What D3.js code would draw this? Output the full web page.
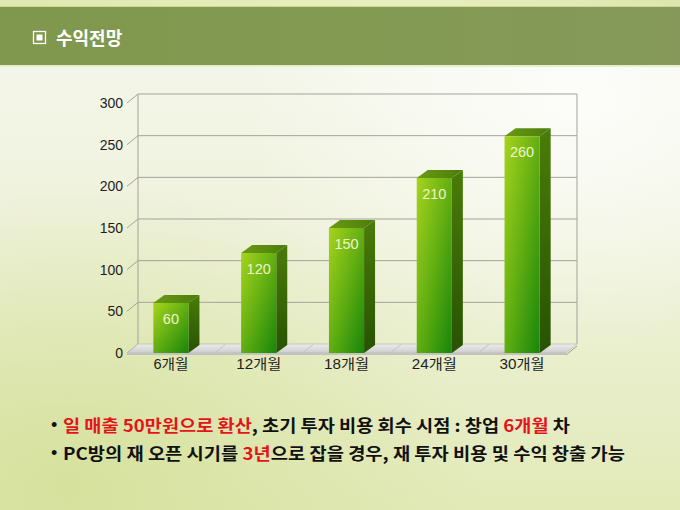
<!DOCTYPE html>
<html>
<head>
<meta charset="utf-8">
<script src="https://cdn.jsdelivr.net/npm/d3@7"></script>
<style>
  html, body { margin: 0; padding: 0; background: #f3f5e6; }
  svg { display: block; }
</style>
</head>
<body>
<svg id="chart" width="680" height="510"></svg>
<script>
const categories = ['6개월', '12개월', '18개월', '24개월', '30개월']
const values = [60, 120, 150, 210, 260]
const yTicks = [0, 50, 100, 150, 200, 250, 300]
const titleText = '수익전망'
const bulletLines = [
  [{ t: '일 매출 50만원으로 환산', red: true }, { t: ', 초기 투자 비용 회수 시점 : 창업 ' }, { t: '6개월', red: true }, { t: ' 차' }],
  [{ t: 'PC방의 재 오픈 시기를 ' }, { t: '3년', red: true }, { t: '으로 잡을 경우, 재 투자 비용 및 수익 창출 가능' }]
]

const W = 680, H = 510
const svg = d3.select('#chart')
const defs = svg.append('defs')

// depth offsets of the 3d box
const wallDx = 11, wallDy = 9
const barDx = 11, barDy = 8

function linGrad (id, x1, y1, x2, y2, stops) {
  const g = defs.append('linearGradient').attr('id', id)
    .attr('x1', x1).attr('y1', y1).attr('x2', x2).attr('y2', y2)
  stops.forEach(s => g.append('stop').attr('offset', s[0]).attr('stop-color', s[1]).attr('stop-opacity', s[2] == null ? 1 : s[2]))
}
function radGrad (id, cx, cy, r, stops) {
  const g = defs.append('radialGradient').attr('id', id)
    .attr('cx', cx).attr('cy', cy).attr('r', r)
  stops.forEach(s => g.append('stop').attr('offset', s[0]).attr('stop-color', s[1]).attr('stop-opacity', s[2] == null ? 1 : s[2]))
}

linGrad('bgLin', 0, 0, 0, 1, [[0, '#f6f7ee'], [0.45, '#eff2dc'], [1, '#e2eab8']])
radGrad('bgGreen', 0.1, 0.95, 0.6, [[0, '#d5e09a', 0.9], [1, '#d5e09a', 0]])
radGrad('bgGlow', 0.85, 0.2, 0.5, [[0, '#ffffff', 0.8], [1, '#ffffff', 0]])
linGrad('band', 0, 0, 1, 0, [[0, '#7f984d'], [0.5, '#829a52'], [1, '#86995a']])
linGrad('topStrip', 0, 0, 1, 0, [[0, '#dfe8b0'], [0.6, '#e8efbf'], [1, '#dde6ae']])
linGrad('barFront', 0, 0, 1, 1, [[0, '#a6d41c'], [0.5, '#62ae12'], [1, '#17860a']])
linGrad('barSide', 0, 0, 0, 1, [[0, '#4a7c08'], [1, '#285202']])
linGrad('barTop', 0, 0, 1, 0, [[0, '#6a9a14'], [1, '#4c7c0a']])
linGrad('floorTop', 0, 0, 0, 1, [[0, '#ececec'], [1, '#cdcdcd']])

// background
svg.append('rect').attr('width', W).attr('height', H).attr('fill', 'url(#bgLin)')
svg.append('rect').attr('width', W).attr('height', H).attr('fill', 'url(#bgGreen)')
svg.append('rect').attr('width', W).attr('height', H).attr('fill', 'url(#bgGlow)')

// header band
svg.append('rect').attr('x', 0).attr('y', 0).attr('width', W).attr('height', 7).attr('fill', 'url(#topStrip)')
svg.append('rect').attr('x', 0).attr('y', 6).attr('width', W).attr('height', 1).attr('fill', '#cbd896')
svg.append('rect').attr('x', 0).attr('y', 7).attr('width', W).attr('height', 58).attr('fill', 'url(#band)')
svg.append('rect').attr('x', 0).attr('y', 65).attr('width', W).attr('height', 2).attr('fill', '#e6eecb')

// title
const tg = svg.append('g')
tg.append('rect').attr('x', 33.5).attr('y', 31.5).attr('width', 12).attr('height', 12)
  .attr('fill', 'none').attr('stroke', '#ffffff').attr('stroke-width', 1.3)
tg.append('rect').attr('x', 36.5).attr('y', 34.5).attr('width', 6).attr('height', 6).attr('fill', '#ffffff')
tg.append('text').attr('x', 56).attr('y', 45)
  .attr('font-family', '"Noto Sans CJK KR", sans-serif').attr('font-weight', 700)
  .attr('font-size', 18).attr('fill', '#ffffff').text(titleText)

// scales
const x = d3.scaleBand().domain(categories).range([127, 566]).paddingInner(0.6).paddingOuter(0.3)
const y = d3.scaleLinear().domain([0, 300]).range([353, 103])
const x0 = 127, x1 = 566

const chart = svg.append('g')

// back wall grid
chart.append('g').selectAll('line').data(yTicks).join('line')
  .attr('x1', x0 + wallDx).attr('x2', x1 + wallDx)
  .attr('y1', d => y(d) - wallDy).attr('y2', d => y(d) - wallDy)
  .attr('stroke', d => d === 0 ? 'none' : '#a3a39a').attr('stroke-width', 1)
// wall edges
chart.append('line').attr('x1', x0 + wallDx).attr('x2', x0 + wallDx)
  .attr('y1', y(300) - wallDy).attr('y2', y(0) - wallDy).attr('stroke', '#a3a39a')
chart.append('line').attr('x1', x1 + wallDx).attr('x2', x1 + wallDx)
  .attr('y1', y(300) - wallDy).attr('y2', y(0) - wallDy).attr('stroke', '#a3a39a')
// diagonal tick stubs on left side
chart.append('g').selectAll('line').data(yTicks).join('line')
  .attr('x1', x0).attr('x2', x0 + wallDx)
  .attr('y1', d => y(d)).attr('y2', d => y(d) - wallDy)
  .attr('stroke', '#a3a39a')

// floor slab
const fy = y(0)
chart.append('path')
  .attr('d', `M${x0},${fy} L${x0 + wallDx},${fy - wallDy} L${x1 + wallDx},${fy - wallDy} L${x1},${fy} Z`)
  .attr('fill', 'url(#floorTop)').attr('stroke', '#b4b4b0').attr('stroke-width', 0.6)
chart.append('path')
  .attr('d', `M${x0},${fy} L${x1},${fy} L${x1},${fy + 2} L${x0},${fy + 2} Z`)
  .attr('fill', '#c2c2c0')
chart.append('line').attr('x1', x1).attr('y1', fy + 2).attr('x2', x1 + wallDx).attr('y2', fy - wallDy + 2)
  .attr('stroke', '#a3a39a')
// category dividers on the floor
const step = x.step()
chart.append('g').selectAll('line').data(categories.slice(1)).join('line')
  .attr('x1', d => x(d) - step * 0.3).attr('x2', d => x(d) - step * 0.3 + wallDx)
  .attr('y1', fy).attr('y2', fy - wallDy)
  .attr('stroke', '#bdbdb8').attr('stroke-width', 0.8)

// bars
const bw = x.bandwidth()
const bars = chart.append('g').selectAll('g').data(categories).join('g')
bars.append('path') // side
  .attr('d', (d, i) => {
    const xr = x(d) + bw, yt = y(values[i]), yb = y(0)
    return `M${xr},${yt} L${xr + barDx},${yt - barDy} L${xr + barDx},${yb - barDy} L${xr},${yb} Z`
  })
  .attr('fill', 'url(#barSide)')
bars.append('path') // top
  .attr('d', (d, i) => {
    const xl = x(d), yt = y(values[i])
    return `M${xl},${yt} L${xl + barDx},${yt - barDy} L${xl + bw + barDx},${yt - barDy} L${xl + bw},${yt} Z`
  })
  .attr('fill', 'url(#barTop)')
bars.append('rect') // front
  .attr('x', d => x(d)).attr('y', (d, i) => y(values[i]))
  .attr('width', bw).attr('height', (d, i) => y(0) - y(values[i]))
  .attr('fill', 'url(#barFront)')
bars.append('text')
  .attr('x', d => x(d) + bw / 2).attr('y', (d, i) => y(values[i]) + 21)
  .attr('text-anchor', 'middle')
  .attr('font-family', '"Liberation Sans", Arial, sans-serif').attr('font-size', 14.5)
  .attr('fill', '#eef5cc')
  .text((d, i) => values[i])

// axes
const yAxis = d3.axisLeft(y).tickValues(yTicks).tickSize(0).tickPadding(4)
const ya = chart.append('g').attr('transform', `translate(${x0},0)`).call(yAxis)
ya.select('.domain').remove()
ya.selectAll('text').attr('font-family', '"Liberation Sans", Arial, sans-serif')
  .attr('font-size', 14).attr('fill', '#1e1e1e')

const xAxis = d3.axisBottom(x).tickSize(0).tickPadding(6)
const xa = chart.append('g').attr('transform', `translate(0,${y(0)})`).call(xAxis)
xa.select('.domain').remove()
xa.selectAll('text').attr('font-family', '"Liberation Sans", "Noto Sans CJK KR", sans-serif')
  .attr('font-size', 14).attr('fill', '#1e1e1e')
  .attr('textLength', d => d.length === 3 ? 35 : 45).attr('lengthAdjust', 'spacingAndGlyphs')

// bullet text
const lineY = [432, 460]
const lineLen = [507, 562]
bulletLines.forEach((parts, i) => {
  svg.append('text').attr('x', 51).attr('y', lineY[i] - 1)
    .attr('font-family', '"Liberation Sans", sans-serif').attr('font-size', 18)
    .attr('fill', '#111').text('•')
  const t = svg.append('text').attr('x', 63).attr('y', lineY[i])
    .attr('font-family', '"Noto Sans CJK KR", sans-serif').attr('font-weight', 700)
    .attr('font-size', 16.5)
    .attr('textLength', lineLen[i]).attr('lengthAdjust', 'spacingAndGlyphs')
  parts.forEach(p => {
    t.append('tspan').attr('fill', p.red ? '#e3141b' : '#111111').text(p.t)
  })
})
</script>
</body>
</html>
